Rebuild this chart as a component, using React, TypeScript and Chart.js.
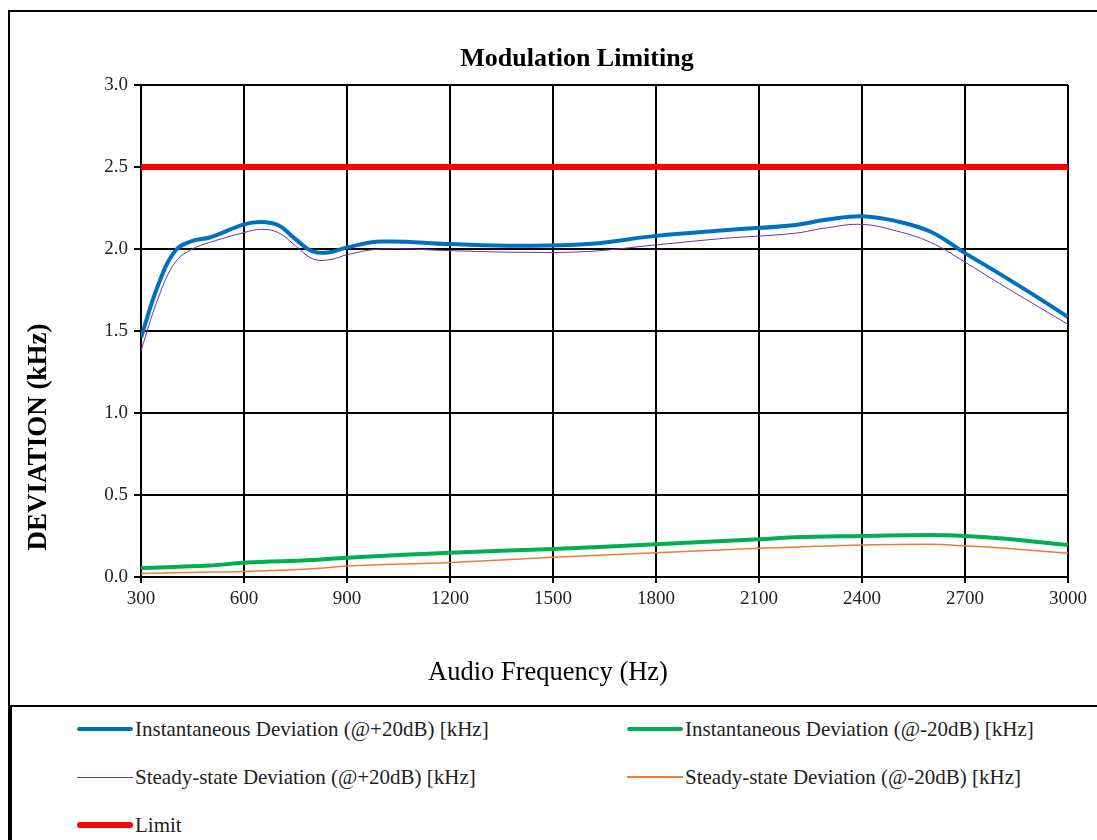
import React, { useEffect, useRef } from "react";
import { Chart, registerables } from "chart.js";

Chart.register(...registerables);

// Frequencies (Hz) for the +20dB series
const plusFreq = [300, 350, 400, 450, 500, 600, 650, 700, 750, 800, 850, 900, 1000, 1200, 1400, 1600, 1800, 2000, 2200, 2300, 2400, 2500, 2600, 2700, 2800, 2900, 3000];
// Instantaneous Deviation (@+20dB) [kHz]
const instPlus = [1.46, 1.78, 1.99, 2.05, 2.07, 2.15, 2.165, 2.145, 2.06, 1.985, 1.98, 2.01, 2.045, 2.03, 2.02, 2.03, 2.08, 2.115, 2.145, 2.18, 2.2, 2.17, 2.105, 1.975, 1.85, 1.72, 1.585];
// Steady-state Deviation (@+20dB) [kHz]
const steadyPlus = [1.38, 1.7, 1.92, 2.0, 2.04, 2.1, 2.12, 2.1, 2.02, 1.94, 1.935, 1.965, 2.0, 1.99, 1.98, 1.985, 2.025, 2.065, 2.095, 2.13, 2.15, 2.11, 2.04, 1.92, 1.79, 1.665, 1.54];

// Frequencies (Hz) for the -20dB series
const minusFreq = [300, 500, 600, 800, 900, 1200, 1500, 1800, 2100, 2200, 2400, 2600, 2700, 2800, 3000];
// Instantaneous Deviation (@-20dB) [kHz]
const instMinus = [0.055, 0.07, 0.087, 0.104, 0.118, 0.148, 0.171, 0.2, 0.23, 0.242, 0.25, 0.256, 0.25, 0.236, 0.195];
// Steady-state Deviation (@-20dB) [kHz]
const steadyMinus = [0.022, 0.03, 0.033, 0.05, 0.067, 0.089, 0.12, 0.148, 0.175, 0.182, 0.195, 0.2, 0.19, 0.178, 0.145];

// Limit
const limitFreq = [300, 3000];
const limitValues = [2.5, 2.5];

const FONT = "'Liberation Serif', 'Times New Roman', serif";

const legendItems = [
  { label: "Instantaneous Deviation (@+20dB) [kHz]", color: "#0070C0", width: 4 },
  { label: "Instantaneous Deviation (@-20dB) [kHz]", color: "#00B050", width: 4 },
  { label: "Steady-state Deviation (@+20dB) [kHz]", color: "#7030A0", width: 1 },
  { label: "Steady-state Deviation (@-20dB) [kHz]", color: "#ED7D31", width: 1.5 },
  { label: "Limit", color: "#FF0000", width: 6 },
];

function pts(xs: number[], ys: number[]) {
  return xs.map((x, i) => ({ x, y: ys[i] }));
}

export default function App() {
  const ref = useRef<HTMLCanvasElement>(null);

  useEffect(() => {
    if (!ref.current) return;
    const tickFont = { family: FONT, size: 19 };
    const chart = new Chart(ref.current, {
      type: "line",
      data: {
        datasets: [
          { label: legendItems[4].label, data: pts(limitFreq, limitValues), borderColor: "#FF0000", borderWidth: 6, tension: 0 },
          { label: legendItems[0].label, data: pts(plusFreq, instPlus), borderColor: "#0070C0", borderWidth: 4 },
          { label: legendItems[2].label, data: pts(plusFreq, steadyPlus), borderColor: "#7030A0", borderWidth: 1 },
          { label: legendItems[1].label, data: pts(minusFreq, instMinus), borderColor: "#00B050", borderWidth: 4 },
          { label: legendItems[3].label, data: pts(minusFreq, steadyMinus), borderColor: "#ED7D31", borderWidth: 1.5 },
        ],
      },
      options: {
        animation: false,
        responsive: false,
        maintainAspectRatio: false,
        layout: { padding: { left: 0, top: 85, right: 29, bottom: 83 } },
        plugins: {
          legend: { display: false },
          title: { display: false },
          tooltip: { enabled: false },
        },
        elements: {
          point: { radius: 0 },
          line: { tension: 0.4, borderCapStyle: "butt", fill: false },
        },
        scales: {
          x: {
            type: "linear",
            min: 300,
            max: 3000,
            ticks: {
              stepSize: 300,
              font: tickFont,
              color: "#222",
              padding: 5,
              maxRotation: 0,
              autoSkip: false,
              callback: (v: any) => String(v),
            },
            grid: { color: "#000", lineWidth: 2, tickLength: 6 },
            border: { color: "#000", width: 2 },
            afterFit: (s: any) => {
              s.height = 40;
            },
          },
          y: {
            type: "linear",
            min: 0,
            max: 3,
            ticks: {
              stepSize: 0.5,
              font: tickFont,
              color: "#222",
              padding: 6,
              callback: (v: any) => Number(v).toFixed(1),
            },
            grid: { color: "#000", lineWidth: 2, tickLength: 7 },
            border: { color: "#000", width: 2 },
            afterFit: (s: any) => {
              s.width = 141;
            },
          },
        },
      },
    });
    return () => chart.destroy();
  }, []);

  return (
    <div style={{ position: "absolute", left: 0, top: 0, width: 1097, height: 840, overflow: "hidden", background: "#fff", fontFamily: FONT }}>
      <div style={{ position: "absolute", left: 8, top: 10, width: 1200, height: 693, borderLeft: "2px solid #000", borderTop: "2px solid #000", borderBottom: "2px solid #000" }} />
      <div style={{ position: "absolute", left: 8, top: 705, width: 1200, height: 200, borderLeft: "4px solid #000" }} />
      <canvas ref={ref} width={1097} height={700} style={{ position: "absolute", left: 0, top: 0, width: 1097, height: 700 }} />
      <div style={{ position: "absolute", left: 0, width: 1154, top: 42, textAlign: "center", fontWeight: "bold", fontSize: 26, lineHeight: "32px", color: "#000" }}>
        Modulation Limiting
      </div>
      <div style={{ position: "absolute", left: 0, width: 1096, top: 655, textAlign: "center", fontSize: 26.5, lineHeight: "32px", color: "#000" }}>
        Audio Frequency (Hz)
      </div>
      <div style={{ position: "absolute", left: 37, top: 437, width: 0, height: 0 }}>
        <div style={{ position: "absolute", left: -200, top: -16, width: 400, textAlign: "center", transform: "rotate(-90deg)", fontWeight: "bold", fontSize: 27, lineHeight: "32px", color: "#000", whiteSpace: "nowrap" }}>
          DEVIATION (kHz)
        </div>
      </div>
      {legendItems.map((it, i) => {
        const col = i === 4 ? 0 : i % 2;
        const row = i === 4 ? 2 : Math.floor(i / 2);
        const lx = col === 0 ? 77 : 627;
        const cy = 729 + row * 48;
        return (
          <div key={i} style={{ position: "absolute", left: lx, top: cy - 13, height: 26, display: "flex", alignItems: "center", whiteSpace: "nowrap" }}>
            <div style={{ width: 56, height: it.width, background: it.color, borderRadius: it.width > 2 ? it.width / 2 : 0 }} />
            <span style={{ marginLeft: 2, fontSize: 21, lineHeight: "26px", color: "#222" }}>{it.label}</span>
          </div>
        );
      })}
    </div>
  );
}
